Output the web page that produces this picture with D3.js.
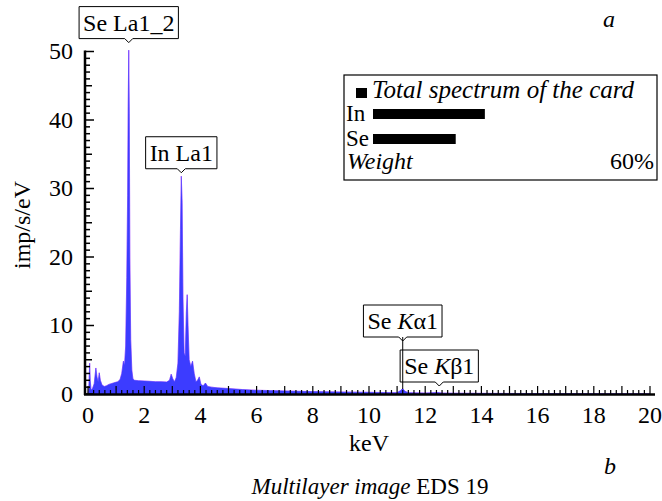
<!DOCTYPE html>
<html>
<head>
<meta charset="utf-8">
<script src="https://cdn.jsdelivr.net/npm/d3@7"></script>
<style>
  svg text, svg tspan { font-family: "Times New Roman", "Liberation Serif", Tinos !important; }
</style>
</head>
<body style="margin:0">
<script>
// Spectrum, keV vs imp/s/eV
var energy = [0.00, 0.03, 0.06, 0.08, 0.11, 0.16, 0.22, 0.28, 0.32, 0.36, 0.40, 0.44, 0.50, 0.58, 0.66, 0.74, 0.82, 0.90, 0.98, 1.06,
  1.14, 1.20, 1.26, 1.30, 1.34, 1.38, 1.41, 1.43, 1.45, 1.47, 1.49, 1.52, 1.56, 1.60, 1.66, 1.80, 2.00, 2.20, 2.40, 2.60,
  2.80, 2.90, 2.96, 3.02, 3.08, 3.14, 3.20, 3.25, 3.29, 3.32, 3.35, 3.38, 3.42, 3.46, 3.50, 3.53, 3.56, 3.60, 3.66, 3.72,
  3.78, 3.84, 3.90, 3.96, 4.02, 4.10, 4.18, 4.26, 4.40, 4.60, 5.00, 5.50, 6.00, 6.50, 7.00, 7.50, 8.00, 8.50, 9.00, 9.50,
  10.0, 10.5, 11.0, 11.12, 11.2, 11.28, 11.4, 12.0, 12.45, 12.6, 13, 14, 15, 16, 17, 18, 19, 20];
var counts = [0, 1.0, 4.5, 2.0, 0.6, 0.8, 1.5, 3.8, 2.5, 1.8, 3.1, 2.0, 1.3, 1.1, 1.2, 1.4, 1.5, 1.6, 1.7, 1.8,
  2.1, 3.0, 4.8, 4.2, 7, 17, 29, 42, 50.2, 41, 20, 8, 3.5, 2.2, 2.0, 1.95, 1.9, 1.85, 1.8, 1.8,
  1.75, 2.0, 2.9, 2.2, 1.8, 2.4, 4.5, 12, 24, 31.8, 28, 14, 6, 5.5, 12, 14.5, 10, 5, 4, 4.8,
  3.0, 1.8, 2.0, 2.5, 1.4, 1.2, 1.6, 1.1, 1.0, 0.9, 0.8, 0.65, 0.55, 0.5, 0.45, 0.4, 0.35, 0.32, 0.3, 0.27,
  0.25, 0.22, 0.2, 0.5, 0.8, 0.4, 0.2, 0.15, 0.22, 0.14, 0.12, 0.1, 0.08, 0.07, 0.06, 0.05, 0.04, 0.03];

var xTicks = [0, 2, 4, 6, 8, 10, 12, 14, 16, 18, 20];
var yTicks = [0, 10, 20, 30, 40, 50];

// peak labels
var peakNames = ["Se La1_2", "In La1", "Se Kα1", "Se Kβ1"];
var peakEnergy = [1.45, 3.32, 11.2, 12.5];
var peakLabelY = [51.3, 32.3, 8.3, 1.2];   // value at the pointer tip of the box

// legend: weight %
var elements = ["In", "Se"];
var weights = [23.8, 17.6];
var weightMax = 60;

var width = 662, height = 501;
var fontFam = "Times New Roman";
var svg = d3.select("body").append("svg")
  .attr("width", width)
  .attr("height", height)
  .attr("font-family", fontFam);

var x = d3.scaleLinear().domain([0, 20]).range([88, 650]);
var y = d3.scaleLinear().domain([0, 50]).range([394, 51.5]);

var data = energy.map(function(e, i){ return {e: e, v: counts[i]}; });

var area = d3.area()
  .x(function(d){ return x(d.e); })
  .y0(y(0))
  .y1(function(d){ return y(d.v); });

// magenta edge under the blue fill
svg.append("path")
  .datum(data)
  .attr("d", area)
  .attr("fill", "none")
  .attr("stroke", "#ff40ff")
  .attr("stroke-opacity", 0.55)
  .attr("stroke-width", 0.9);

svg.append("path")
  .datum(data)
  .attr("d", area)
  .attr("fill", "#3c3cff")
  .attr("stroke", "#3c3cff")
  .attr("stroke-width", 0.5);

function txt(sel){
  sel.attr("font-family", fontFam).attr("font-size", 24);
}

// y axis with inside ticks
var yMinor = d3.range(0, 51, 1);
svg.selectAll(".ytick").data(yMinor).enter().append("line")
  .attr("x1", 85)
  .attr("x2", function(d){ return d % 10 == 0 ? 94 : (d % 5 == 0 ? 92 : 90); })
  .attr("y1", function(d){ return y(d); })
  .attr("y2", function(d){ return y(d); })
  .attr("stroke", "#000")
  .attr("stroke-width", 1.5);

svg.append("line")
  .attr("x1", 85).attr("x2", 85)
  .attr("y1", y(50) - 1).attr("y2", y(0) + 1)
  .attr("stroke", "#000").attr("stroke-width", 2.5);

svg.selectAll(".ylab").data(yTicks).enter().append("text")
  .attr("x", 73)
  .attr("y", function(d){ return y(d); })
  .attr("dy", "0.33em")
  .attr("text-anchor", "end")
  .call(txt)
  .text(function(d){ return d; });

// x axis with inside ticks
var xMinor = d3.range(0, 101, 1).map(function(i){ return i * 0.2; });
svg.selectAll(".xtick").data(xMinor).enter().append("line")
  .attr("x1", function(d){ return x(d); })
  .attr("x2", function(d){ return x(d); })
  .attr("y1", 394)
  .attr("y2", function(d, i){ return i % 5 == 0 ? 386 : 390; })
  .attr("stroke", "#000")
  .attr("stroke-width", 1.2);

svg.append("line")
  .attr("x1", 84).attr("x2", 655)
  .attr("y1", 394.5).attr("y2", 394.5)
  .attr("stroke", "#000").attr("stroke-width", 2.5);

svg.selectAll(".xlab").data(xTicks).enter().append("text")
  .attr("x", function(d){ return x(d); })
  .attr("y", 423)
  .attr("text-anchor", "middle")
  .call(txt)
  .text(function(d){ return d; });

svg.append("text")
  .attr("x", 369).attr("y", 451)
  .attr("text-anchor", "middle")
  .call(txt);
svg.select("text:last-child").text("keV");

svg.append("text")
  .attr("transform", "translate(30,225) rotate(-90)")
  .attr("text-anchor", "middle")
  .call(txt);
svg.select("text:last-child").text("imp/s/eV");

// panel letters and caption
svg.append("text")
  .attr("x", 609).attr("y", 27)
  .attr("text-anchor", "middle")
  .attr("font-style", "italic")
  .call(txt);
svg.select("text:last-child").text("a");

svg.append("text")
  .attr("x", 610).attr("y", 474)
  .attr("text-anchor", "middle")
  .attr("font-style", "italic")
  .call(txt);
svg.select("text:last-child").text("b");

var cap = svg.append("text")
  .attr("x", 370).attr("y", 494)
  .attr("text-anchor", "middle");
cap.call(txt);
cap.attr("font-size", 23);
cap.append("tspan").attr("font-style", "italic").text("Multilayer image");
cap.append("tspan").text(" EDS 19");

// peak label boxes
function addLabel(i, boxBottom){
  var g = svg.append("g");
  var px = x(peakEnergy[i]);
  var t = g.append("text")
    .attr("x", px)
    .attr("y", boxBottom - 8)
    .attr("text-anchor", "middle");
  t.call(txt);
  var name = peakNames[i];
  if(name.indexOf("K") > 0){
    t.append("tspan").text("Se ");
    t.append("tspan").attr("font-style", "italic").text("K");
    t.append("tspan").text(name.slice(4));
  } else {
    t.text(name);
  }
  var bb = t.node().getBBox();
  var bw = bb.width + 8;
  var bx = px - bw / 2;
  var bh = 32;
  g.insert("path", "text")
    .attr("d", "M" + bx + "," + (boxBottom - bh) + "H" + (bx + bw) + "V" + boxBottom +
      "H" + (px + 4) + "L" + px + "," + (boxBottom + 4) + "L" + (px - 4) + "," + boxBottom +
      "H" + bx + "Z")
    .attr("fill", "#fff")
    .attr("stroke", "#000")
    .attr("stroke-width", 1);
}

addLabel(0, y(peakLabelY[0]) - 4);
addLabel(1, y(peakLabelY[1]) - 4);
addLabel(2, 337);
addLabel(3, 382);

// leader line for Se K-alpha
svg.append("line")
  .attr("x1", x(peakEnergy[2])).attr("x2", x(peakEnergy[2]))
  .attr("y1", 337).attr("y2", y(peakLabelY[3] * 0.6))
  .attr("stroke", "#000").attr("stroke-width", 1);

// legend box
var lg = svg.append("g");
lg.append("rect")
  .attr("x", 344).attr("y", 75)
  .attr("width", 313).attr("height", 105)
  .attr("fill", "#fff")
  .attr("stroke", "#000")
  .attr("stroke-width", 1.2);

lg.append("rect")
  .attr("x", 356).attr("y", 88)
  .attr("width", 11).attr("height", 10)
  .attr("fill", "#000");

var tt = lg.append("text")
  .attr("x", 372).attr("y", 98)
  .attr("font-style", "italic");
tt.call(txt);
tt.attr("font-size", 25).text("Total spectrum of the card");

var wx = d3.scaleLinear().domain([0, weightMax]).range([373, 655]);

elements.forEach(function(el, i){
  var yy = 121 + i * 25;
  var t = lg.append("text")
    .attr("x", 346).attr("y", yy);
  t.call(txt);
  t.attr("font-size", 23).text(el);
  lg.append("rect")
    .attr("x", wx(0)).attr("y", yy - 12)
    .attr("width", wx(weights[i]) - wx(0))
    .attr("height", 10)
    .attr("fill", "#000");
});

var wt = lg.append("text")
  .attr("x", 347).attr("y", 169)
  .attr("font-style", "italic");
wt.call(txt);
wt.text("Weight");

var pc = lg.append("text")
  .attr("x", 654).attr("y", 169)
  .attr("text-anchor", "end");
pc.call(txt);
pc.text(weightMax + "%");
</script>
</body>
</html>
